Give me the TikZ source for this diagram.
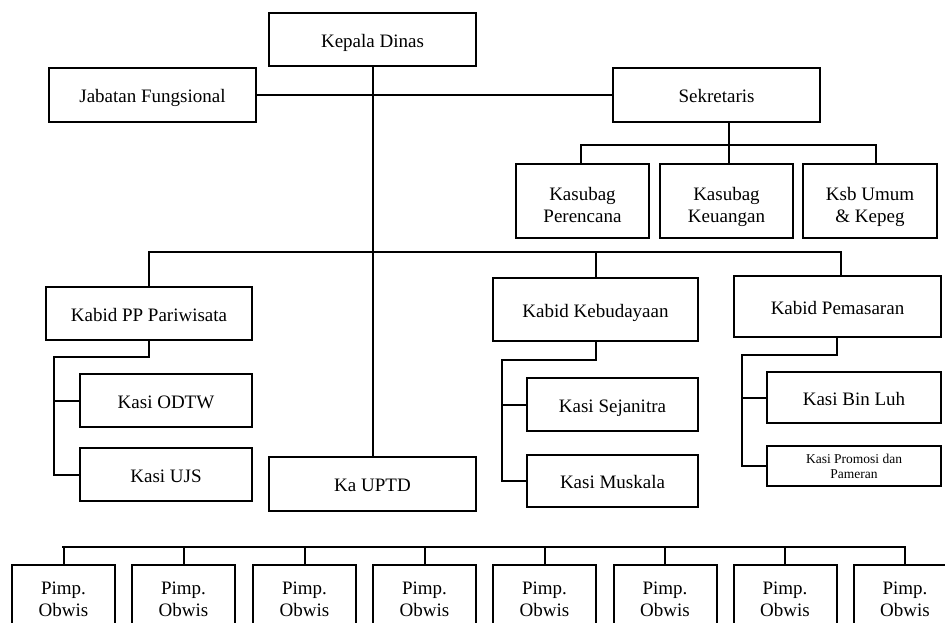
\documentclass[tikz,border=0pt]{standalone}
\usepackage{fontspec}
\setmainfont{Liberation Serif}
\newcommand{\topstrut}{\rule{0pt}{25pt}}
\newcommand{\botstrut}{\rule[-5pt]{0pt}{5pt}}
\begin{document}
\begin{tikzpicture}[x=1pt,y=-1pt,
  box/.style={draw,line width=2pt,rectangle,inner sep=0pt,align=center,
    font=\fontsize{19}{22}\selectfont},
  one/.style={box,text height=15pt,text depth=0pt},
  smallbox/.style={box,font=\fontsize{13.5}{15}\selectfont},
  conn/.style={line width=2pt,line cap=rect}]
\useasboundingbox (0,0) rectangle (945,622);
\clip (0,0) rectangle (945,622);
% top level
\node[one,minimum width=207,minimum height=53] (kd) at (372.5,39.5) {Kepala Dinas};
\node[one,minimum width=207,minimum height=54] (jf) at (152.5,95) {Jabatan Fungsional};
\node[one,minimum width=207,minimum height=54] (sek) at (716.5,95) {Sekretaris};
% secretariat
\node[box,minimum width=133,minimum height=74] (kp) at (582.5,201) {\topstrut Kasubag\\Perencana\botstrut};
\node[box,minimum width=133,minimum height=74] (kk) at (726.5,201) {\topstrut Kasubag\\Keuangan\botstrut};
\node[box,minimum width=134,minimum height=74] (ku) at (870,201) {\topstrut Ksb Umum\\\& Kepeg\botstrut};
% kabid
\node[one,minimum width=206,minimum height=53] (kpp) at (149,313.5) {Kabid PP Pariwisata};
\node[one,minimum width=172,minimum height=53] (odtw) at (166,400.5) {Kasi ODTW};
\node[one,minimum width=172,minimum height=53] (ujs) at (166,474.5) {Kasi UJS};
\node[one,minimum width=207,minimum height=54] (uptd) at (372.5,484) {Ka UPTD};
\node[one,minimum width=205,minimum height=63] (keb) at (595.5,309.5) {Kabid Kebudayaan};
\node[one,minimum width=171,minimum height=53] (sej) at (612.5,404.5) {Kasi Sejanitra};
\node[one,minimum width=171,minimum height=52] (mus) at (612.5,481) {Kasi Muskala};
\node[one,minimum width=207,minimum height=61] (pem) at (837.5,306.5) {Kabid Pemasaran};
\node[one,minimum width=174,minimum height=51] (bin) at (854,397.5) {Kasi Bin Luh};
\node[smallbox,minimum width=174,minimum height=40] (pro) at (854,466) {Kasi Promosi dan\\Pameran};
% obwis row
\foreach \i/\cx in {1/63.5,2/183.5,3/304.5,4/424.5,5/544.5,6/665,7/785,8/905}{
  \node[box,minimum width=103,minimum height=68] (ob\i) at (\cx,599) {Pimp.\\Obwis};
}
% coordinates
\coordinate (sekbusL) at (581,145);
\coordinate (sekbusM) at (729,145);
\coordinate (sekbusR) at (876,145);
\coordinate (mainL) at (149,252);
\coordinate (mainR) at (841,252);
\coordinate (mainK) at (596,252);
\coordinate (ppbend) at (149,357);
\coordinate (ppleft) at (54,357);
\coordinate (kebbend) at (596,360);
\coordinate (kebleft) at (502,360);
\coordinate (pembend) at (837,355);
\coordinate (pemleft) at (742,355);
\coordinate (obL) at (63,547);
\coordinate (obR) at (905,547);
% connectors
\draw[conn] (kd.south) -- (uptd.north);
\draw[conn] (jf.east) -- (sek.west);
\draw[conn] (sekbusM |- sek.south) -- (sekbusM);
\draw[conn] (sekbusL |- kp.north) -- (sekbusL) -- (sekbusR) -- (sekbusR |- ku.north);
\draw[conn] (sekbusM) -- (sekbusM |- kk.north);
\draw[conn] (kpp.north) -- (mainL) -- (mainR) -- (mainR |- pem.north);
\draw[conn] (mainK) -- (mainK |- keb.north);
% PP branch
\draw[conn] (kpp.south) -- (ppbend) -- (ppleft) -- (ppleft |- ujs.west) -- (ujs.west);
\draw[conn] (ppleft |- odtw.west) -- (odtw.west);
% Kebudayaan branch
\draw[conn] (kebbend |- keb.south) -- (kebbend) -- (kebleft) -- (kebleft |- mus.west) -- (mus.west);
\draw[conn] (kebleft |- sej.west) -- (sej.west);
% Pemasaran branch
\draw[conn] (pembend |- pem.south) -- (pembend) -- (pemleft) -- (pemleft |- pro.west) -- (pro.west);
\draw[conn] (pemleft |- bin.west) -- (bin.west);
% Obwis bus
\draw[conn] (obL) -- (obR);
\foreach \i in {1,...,8}{
  \draw[conn] (ob\i.north |- obL) -- (ob\i.north);
}
\end{tikzpicture}
\end{document}
